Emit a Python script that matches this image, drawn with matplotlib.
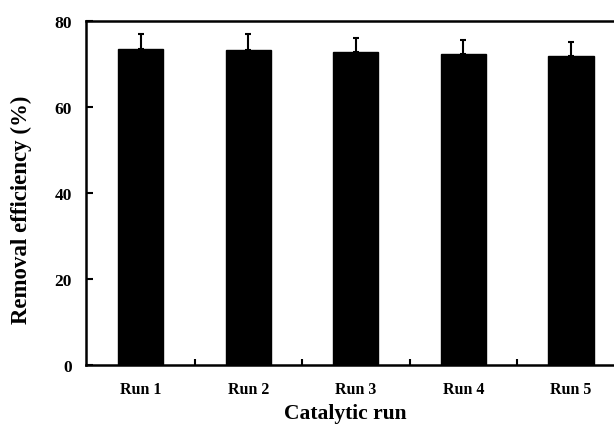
import numpy as np
import matplotlib
matplotlib.use("Agg")
import matplotlib.pyplot as plt

runs = ["Run 1", "Run 2", "Run 3", "Run 4", "Run 5"]
efficiency = [73.4, 73.3, 72.7, 72.3, 71.9]
error = [3.4, 3.5, 3.2, 3.3, 3.1]

plt.rcParams["font.family"] = ["Liberation Serif", "DejaVu Serif"]
plt.rcParams["font.weight"] = "bold"

fig = plt.figure(figsize=(6.14, 4.31), dpi=100)
ax = fig.add_axes([0.140, 0.1497, 0.860, 0.80])

x = np.arange(len(runs))
ax.bar(x, efficiency, width=0.42, color="black", edgecolor="black", linewidth=1)
ax.errorbar(x, efficiency, yerr=[np.zeros(len(error)), error], fmt="none",
            ecolor="black", elinewidth=1.5, capsize=2.5, capthick=1.5)

ax.set_xlim(-0.51, 4.40)
ax.set_ylim(0, 80)
ax.set_yticks([0, 20, 40, 60, 80])

# category labels at bar centres, tick marks between the bars
ax.set_xticks(x)
ax.set_xticklabels(runs, fontsize=11.5, fontweight="bold")
ax.set_xticks(x[:-1] + 0.5, minor=True)
ax.tick_params(axis="x", which="major", length=0, pad=11)
ax.tick_params(axis="x", which="minor", direction="in", length=4, width=1.5)
ax.tick_params(axis="y", direction="in", length=5, width=1.5, labelsize=12.5, pad=10)
for lab in ax.get_yticklabels():
    lab.set_fontweight("bold")

for side in ["left", "bottom", "top"]:
    ax.spines[side].set_linewidth(1.8)
ax.spines["right"].set_visible(False)

ax.set_ylabel("Removal efficiency (%)", fontsize=16.5, fontweight="bold")
ax.yaxis.set_label_coords(-0.102, 0.455)
ax.set_xlabel("Catalytic run", fontsize=15.5, fontweight="bold")
ax.xaxis.set_label_coords(0.492, -0.109)

fig.savefig("out.png", dpi=100)
